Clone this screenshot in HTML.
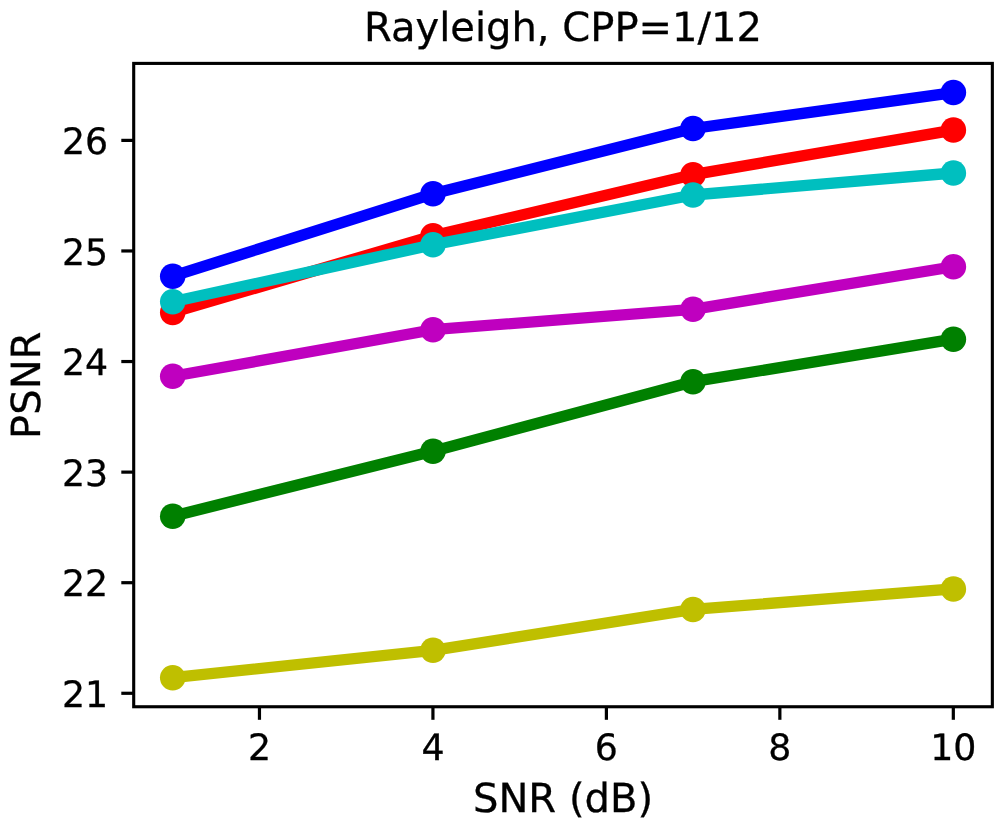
<!DOCTYPE html>
<html lang="en">
<head>
<meta charset="utf-8">
<title>Rayleigh, CPP=1/12</title>
<style>
html,body{margin:0;padding:0;background:#fff;}
body{width:998px;height:821px;overflow:hidden;}
svg{display:block;}
svg text{font-family:"DejaVu Sans","Liberation Sans",sans-serif;fill:#000;stroke:#000;stroke-width:0.3px;text-rendering:geometricPrecision;}
.tk{font-size:36.30px;}
.lb{font-size:40.05px;}
</style>
</head>
<body>
<svg width="998" height="821" viewBox="0 0 998 821">
<rect x="0" y="0" width="998" height="821" fill="#ffffff"/>
<g fill="none" stroke-linejoin="round" stroke-linecap="butt">
<polyline points="172.70,276.15 433.00,193.85 693.00,128.50 953.40,92.60" stroke="#0000ff" stroke-width="11.30"/>
<circle cx="172.70" cy="276.15" r="12.75" fill="#0000ff" stroke="none"/>
<circle cx="433.00" cy="193.85" r="12.75" fill="#0000ff" stroke="none"/>
<circle cx="693.00" cy="128.50" r="12.75" fill="#0000ff" stroke="none"/>
<circle cx="953.40" cy="92.60" r="12.75" fill="#0000ff" stroke="none"/>
<polyline points="172.70,312.40 433.00,235.85 693.00,174.65 953.40,130.10" stroke="#ff0000" stroke-width="11.30"/>
<circle cx="172.70" cy="312.40" r="12.75" fill="#ff0000" stroke="none"/>
<circle cx="433.00" cy="235.85" r="12.75" fill="#ff0000" stroke="none"/>
<circle cx="693.00" cy="174.65" r="12.75" fill="#ff0000" stroke="none"/>
<circle cx="953.40" cy="130.10" r="12.75" fill="#ff0000" stroke="none"/>
<polyline points="172.70,301.75 433.00,244.75 693.00,195.00 953.40,173.00" stroke="#00bfbf" stroke-width="11.30"/>
<circle cx="172.70" cy="301.75" r="12.75" fill="#00bfbf" stroke="none"/>
<circle cx="433.00" cy="244.75" r="12.75" fill="#00bfbf" stroke="none"/>
<circle cx="693.00" cy="195.00" r="12.75" fill="#00bfbf" stroke="none"/>
<circle cx="953.40" cy="173.00" r="12.75" fill="#00bfbf" stroke="none"/>
<polyline points="172.70,376.30 433.00,329.70 693.00,309.30 953.40,266.75" stroke="#bf00bf" stroke-width="11.30"/>
<circle cx="172.70" cy="376.30" r="12.75" fill="#bf00bf" stroke="none"/>
<circle cx="433.00" cy="329.70" r="12.75" fill="#bf00bf" stroke="none"/>
<circle cx="693.00" cy="309.30" r="12.75" fill="#bf00bf" stroke="none"/>
<circle cx="953.40" cy="266.75" r="12.75" fill="#bf00bf" stroke="none"/>
<polyline points="172.70,516.20 433.00,451.30 693.00,381.70 953.40,339.20" stroke="#008000" stroke-width="11.30"/>
<circle cx="172.70" cy="516.20" r="12.75" fill="#008000" stroke="none"/>
<circle cx="433.00" cy="451.30" r="12.75" fill="#008000" stroke="none"/>
<circle cx="693.00" cy="381.70" r="12.75" fill="#008000" stroke="none"/>
<circle cx="953.40" cy="339.20" r="12.75" fill="#008000" stroke="none"/>
<polyline points="172.70,677.70 433.00,650.30 693.00,609.40 953.40,588.90" stroke="#bfbf00" stroke-width="11.30"/>
<circle cx="172.70" cy="677.70" r="12.75" fill="#bfbf00" stroke="none"/>
<circle cx="433.00" cy="650.30" r="12.75" fill="#bfbf00" stroke="none"/>
<circle cx="693.00" cy="609.40" r="12.75" fill="#bfbf00" stroke="none"/>
<circle cx="953.40" cy="588.90" r="12.75" fill="#bfbf00" stroke="none"/>
</g>
<g stroke="#000" stroke-width="3.20" fill="none">
<line x1="259.46" y1="706.75" x2="259.46" y2="719.80"/>
<line x1="432.93" y1="706.75" x2="432.93" y2="719.80"/>
<line x1="606.39" y1="706.75" x2="606.39" y2="719.80"/>
<line x1="779.86" y1="706.75" x2="779.86" y2="719.80"/>
<line x1="953.32" y1="706.75" x2="953.32" y2="719.80"/>
<line x1="133.70" y1="693.28" x2="121.30" y2="693.28"/>
<line x1="133.70" y1="582.70" x2="121.30" y2="582.70"/>
<line x1="133.70" y1="472.12" x2="121.30" y2="472.12"/>
<line x1="133.70" y1="361.54" x2="121.30" y2="361.54"/>
<line x1="133.70" y1="250.96" x2="121.30" y2="250.96"/>
<line x1="133.70" y1="140.38" x2="121.30" y2="140.38"/>
</g>
<rect x="133.70" y="63.40" width="858.65" height="643.35" fill="none" stroke="#000" stroke-width="3.10"/>
<text class="tk" x="259.46" y="760.00" text-anchor="middle">2</text>
<text class="tk" x="432.93" y="760.00" text-anchor="middle">4</text>
<text class="tk" x="606.39" y="760.00" text-anchor="middle">6</text>
<text class="tk" x="779.86" y="760.00" text-anchor="middle">8</text>
<text class="tk" x="953.32" y="760.00" text-anchor="middle">10</text>
<text class="tk" x="108.15" y="706.83" text-anchor="end">21</text>
<text class="tk" x="108.15" y="596.25" text-anchor="end">22</text>
<text class="tk" x="108.15" y="485.67" text-anchor="end">23</text>
<text class="tk" x="108.15" y="375.09" text-anchor="end">24</text>
<text class="tk" x="108.15" y="264.51" text-anchor="end">25</text>
<text class="tk" x="108.15" y="153.93" text-anchor="end">26</text>
<text class="lb" x="563.02" y="41.40" text-anchor="middle">Rayleigh, CPP=1/12</text>
<text class="lb" x="563.02" y="812.30" text-anchor="middle">SNR (dB)</text>
<text class="lb" transform="translate(39.55,385.27) rotate(-90)" text-anchor="middle">PSNR</text>
</svg>
</body>
</html>
